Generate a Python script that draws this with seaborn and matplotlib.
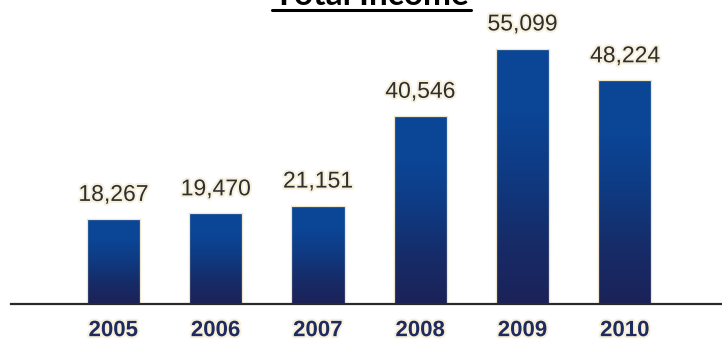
import numpy as np
import pandas as pd
import matplotlib
matplotlib.use("Agg")
import matplotlib.pyplot as plt
import matplotlib.patheffects as pe
from matplotlib.colors import LinearSegmentedColormap
from matplotlib.lines import Line2D
import seaborn as sns

years = ["2005", "2006", "2007", "2008", "2009", "2010"]
income = [18267, 19470, 21151, 40546, 55099, 48224]
value_labels = ["18,267", "19,470", "21,151", "40,546", "55,099", "48,224"]
title_text = "Total Income"

sns.set_theme(style="white")
plt.rcParams["font.family"] = ["Liberation Sans", "DejaVu Sans"]

W, H = 722, 341
fig = plt.figure(figsize=(W / 100, H / 100), dpi=100)
fig.patch.set_facecolor("white")

# axes geometry in pixels
base_y = 303.5          # baseline, px from top
left_px, right_px = 11, 722
ax = fig.add_axes([left_px / W, (H - base_y) / H, (right_px - left_px) / W, base_y / H])

df = pd.DataFrame({"year": years, "income": income})
sns.barplot(data=df, x="year", y="income", order=years, width=0.52,
            color="#123a80", edgecolor="#efe7cc", linewidth=0.8,
            saturation=1, ax=ax)

px_per_unit = 0.004628
ax.set_ylim(0, base_y / px_per_unit)
ax.set_xlim(-1.0, 5.95)

# vertical gradient inside every bar
grad_cmap = LinearSegmentedColormap.from_list(
    "bar_grad", ["#1c2259", "#162c68", "#0f3a82", "#0b4596", "#0b4697"])
gradient = np.linspace(0, 1, 256).reshape(-1, 1)
for patch in ax.patches:
    x0, y0 = patch.get_x(), patch.get_y()
    w, h = patch.get_width(), patch.get_height()
    im = ax.imshow(gradient, cmap=grad_cmap, origin="lower", aspect="auto",
                   extent=[x0, x0 + w, y0, y0 + h], zorder=patch.get_zorder() + 0.1,
                   interpolation="bicubic")
    im.set_clip_path(patch)
    edge = plt.Rectangle((x0, y0), w, h, fill=False, edgecolor="#efe7cc",
                         linewidth=0.9, zorder=patch.get_zorder() + 0.2)
    ax.add_patch(edge)
ax.set_xlim(-1.0, 5.95)
ax.set_ylim(0, base_y / px_per_unit)

# value labels above the bars
halo = [pe.withStroke(linewidth=3, foreground="#f6f0dc")]
for i, (v, lab) in enumerate(zip(income, value_labels)):
    ax.annotate(lab, xy=(i, v), xytext=(0, 13), textcoords="offset points",
                ha="center", va="baseline", fontsize=16.5, color="#2e2e2e",
                path_effects=halo, zorder=5)

# axis styling: only the baseline remains
for side in ["top", "right", "left"]:
    ax.spines[side].set_visible(False)
ax.spines["bottom"].set_color("#2a2a2a")
ax.spines["bottom"].set_linewidth(1.6)
ax.set_yticks([])
ax.set_xlabel("")
ax.set_ylabel("")
ax.tick_params(axis="x", length=0, pad=12)
for t in ax.get_xticklabels():
    t.set_fontweight("bold")
    t.set_fontsize(16)
    t.set_color("#1f2a5e")
    t.set_path_effects([pe.withStroke(linewidth=3, foreground="#f6f0dc")])

# title, underlined
title_cx = 371.5
fig.text(title_cx / W, 1 - 5 / H, title_text, ha="center", va="baseline",
         fontsize=24, fontweight="bold", family=["Lato", "DejaVu Sans"],
         color="black")
fig.add_artist(Line2D([272 / W, 471 / W], [1 - 10 / H, 1 - 10 / H],
                      transform=fig.transFigure, color="black", linewidth=2.2))

fig.savefig("out.png", dpi=100)
